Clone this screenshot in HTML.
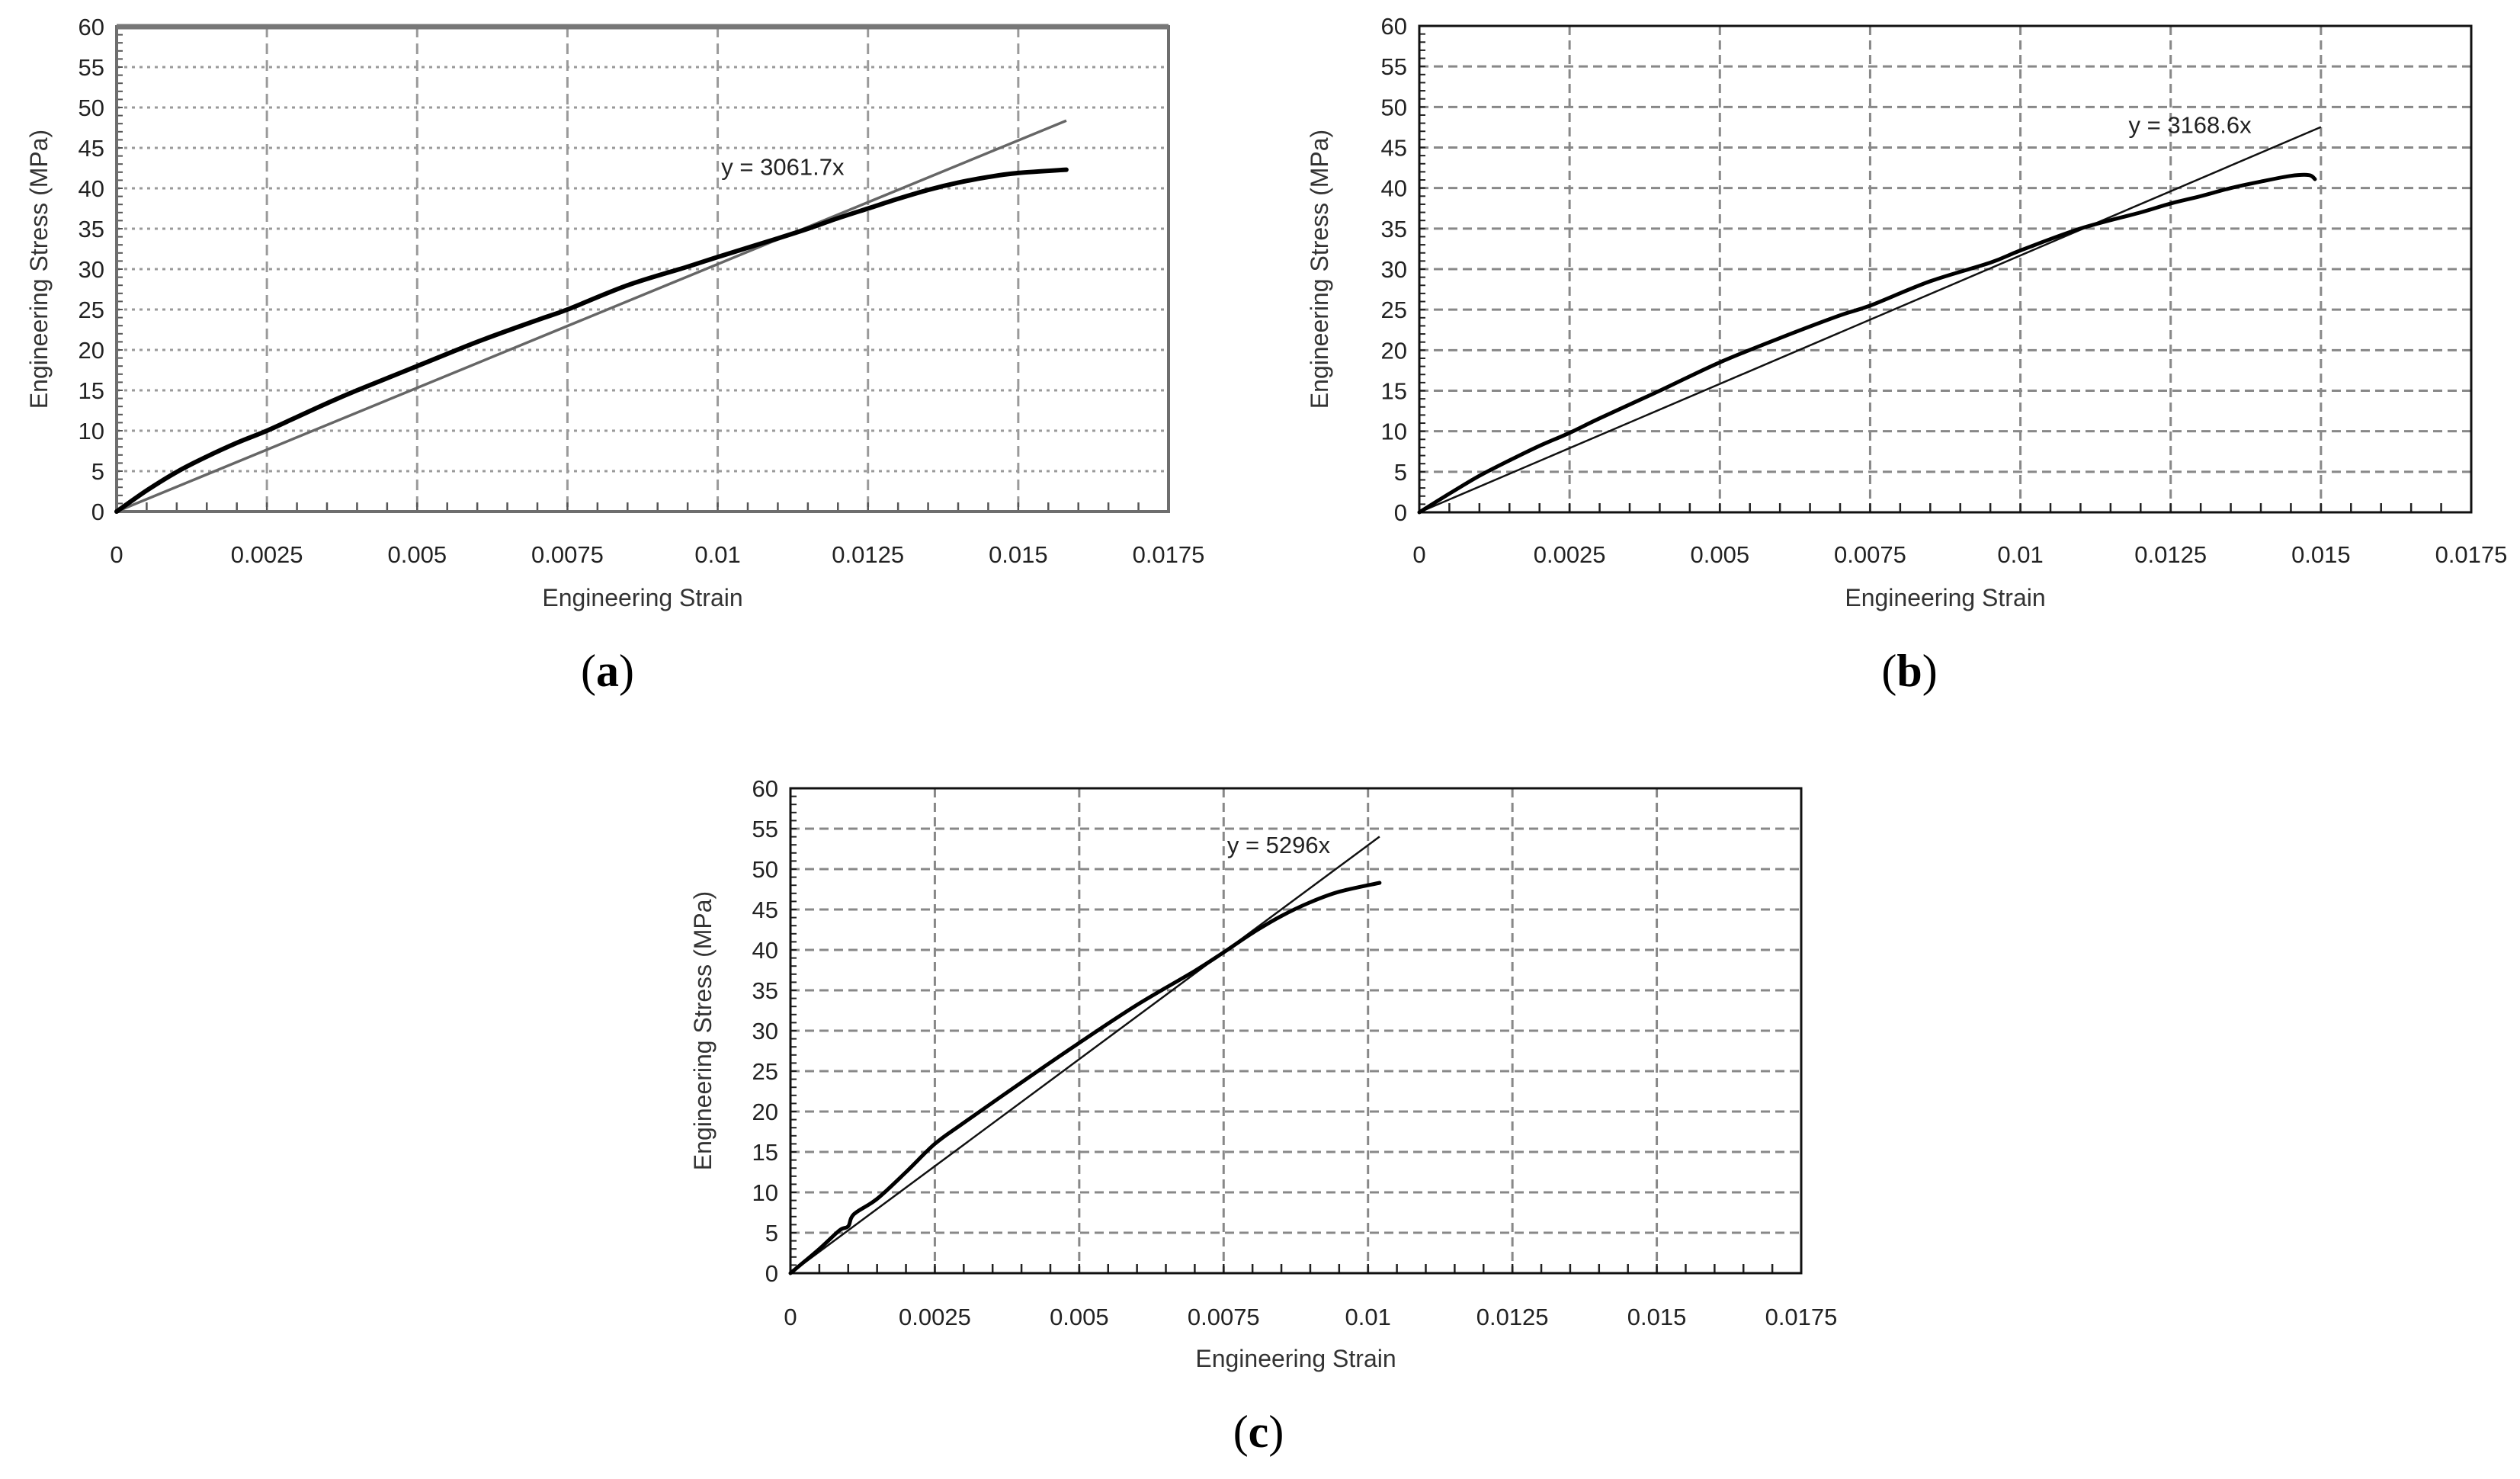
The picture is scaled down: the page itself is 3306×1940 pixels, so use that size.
<!DOCTYPE html>
<html><head><meta charset="utf-8">
<style>
html,body{margin:0;padding:0;background:#fff;}
svg{display:block;}
text{font-family:"Liberation Sans",sans-serif;}
</style></head>
<body>
<svg id="fig" width="3306" height="1940" viewBox="0 0 3306 1940" xmlns="http://www.w3.org/2000/svg"></svg>
<script>
const xTicks = [0, 0.0025, 0.005, 0.0075, 0.01, 0.0125, 0.015, 0.0175];
const xTickLabels = ["0","0.0025","0.005","0.0075","0.01","0.0125","0.015","0.0175"];
const yTicks = [0,5,10,15,20,25,30,35,40,45,50,55,60];

const strainA = [0,0.0005,0.001,0.0015,0.002,0.0025,0.003,0.0035,0.004,0.005,0.006,0.007,0.0075,0.0085,0.0095,0.01,0.011,0.0115,0.012,0.0125,0.013,0.0135,0.014,0.0145,0.015,0.0158];
const stressA = [0,2.6,4.9,6.8,8.5,10,11.7,13.4,15,18,21,23.7,25,28,30.3,31.5,33.8,35,36.3,37.5,38.7,39.8,40.7,41.4,41.9,42.3];
const strainB = [0,0.0005,0.001,0.0015,0.002,0.0025,0.003,0.004,0.005,0.006,0.007,0.0075,0.0085,0.0095,0.01,0.011,0.012,0.0125,0.013,0.0135,0.014,0.0145,0.0148,0.0149];
const stressB = [0,2.3,4.5,6.4,8.2,9.8,11.6,15,18.5,21.5,24.3,25.5,28.5,30.8,32.3,35,37,38.1,39,40,40.8,41.5,41.6,41.1];
const strainC = [0,0.0005,0.00085,0.001,0.0011,0.0015,0.002,0.0025,0.003,0.004,0.005,0.006,0.007,0.0075,0.008,0.0085,0.009,0.0095,0.0102];
const stressC = [0,3,5.3,5.8,7.3,9.2,12.5,16,18.6,23.6,28.5,33.2,37.4,39.7,42.1,44.2,45.9,47.2,48.3];
const slopes = [3061.7, 3168.6, 5296];
const fitEnds = [0.0158, 0.015, 0.0102];
const fitLabels = ["y = 3061.7x","y = 3168.6x","y = 5296x"];
const fitLabelPos = [[0.01006,42.7],[0.0118,47.8],[0.00756,53]];

const NS="http://www.w3.org/2000/svg";
const svg=document.getElementById('fig');
function mk(tag,attrs,parent){const e=document.createElementNS(NS,tag);for(const k in attrs)e.setAttribute(k,attrs[k]);(parent||svg).appendChild(e);return e;}
function smooth(pts){
 let d='M'+pts[0][0].toFixed(1)+','+pts[0][1].toFixed(1);
 for(let i=0;i<pts.length-1;i++){
  const p0=pts[Math.max(0,i-1)],p1=pts[i],p2=pts[i+1],p3=pts[Math.min(pts.length-1,i+2)];
  const c1=[p1[0]+(p2[0]-p0[0])/6,p1[1]+(p2[1]-p0[1])/6];
  const c2=[p2[0]-(p3[0]-p1[0])/6,p2[1]-(p3[1]-p1[1])/6];
  d+=` C${c1[0].toFixed(1)},${c1[1].toFixed(1)} ${c2[0].toFixed(1)},${c2[1].toFixed(1)} ${p2[0].toFixed(1)},${p2[1].toFixed(1)}`;
 }
 return d;
}

const panels=[
 {id:'a',L:153,R:1533,T:35,B:671,xs:strainA,ys:stressA,gray:true,yt:51,tickY:738,titleY:795,capX:797,capY:900},
 {id:'b',L:1862,R:3242,T:34,B:672,xs:strainB,ys:stressB,gray:false,yt:1731,tickY:738,titleY:795,capX:2505,capY:900},
 {id:'c',L:1037,R:2363,T:1034,B:1670,xs:strainC,ys:stressC,gray:false,yt:922,tickY:1738,titleY:1793,capX:1651,capY:1898}
];

panels.forEach((p,i)=>{
 const g=mk('g',{});
 
 
 const sx=v=>p.L+(v/0.0175)*(p.R-p.L);
 const sy=v=>p.B-(v/60)*(p.B-p.T);
 const gridCol=p.gray?'#9a9a9a':'#888';
 const dash=p.gray?'4,6':'12,7';
 yTicks.forEach(t=>{ if(t===0||t===60)return;
  const l=mk('line',{x1:p.L,x2:p.R,y1:sy(t),y2:sy(t),stroke:gridCol,'stroke-width':3,'stroke-dasharray':dash},g);
  
  
 });
 xTicks.forEach(t=>{ if(t===0||t===0.0175)return;
  const l=mk('line',{x1:sx(t),x2:sx(t),y1:p.T,y2:p.B,stroke:gridCol,'stroke-width':3,'stroke-dasharray':p.gray?'14,8':'12,7'},g);
  
  
 });
 for(let k=1;k<35;k++){const x=sx(k*0.0005);mk('line',{x1:x,x2:x,y1:p.B,y2:p.B-12,stroke:p.gray?'#555':'#222','stroke-width':2.5},g);}
 for(let k=1;k<60;k++){const y=sy(k);mk('line',{x1:p.L,x2:p.L+8,y1:y,y2:y,stroke:p.gray?'#555':'#222','stroke-width':2},g);}
 const fr=mk('rect',{x:p.L,y:p.T,width:p.R-p.L,height:p.B-p.T,fill:'none',stroke:p.gray?'#6e6e6e':'#111','stroke-width':p.gray?4:3},g);
 
 
 if(p.gray){mk('line',{x1:p.L,x2:p.R,y1:p.T,y2:p.T,stroke:'#777','stroke-width':7},g);}
 yTicks.forEach(t=>{
  const tx=mk('text',{x:p.L-16,y:sy(t)+11,'text-anchor':'end','font-size':31,fill:'#222'},g);
  tx.textContent=t;
  
  
 });
 xTicks.forEach((t,j)=>{
  const tx=mk('text',{x:sx(t),y:p.tickY,'text-anchor':'middle','font-size':31,fill:'#222'},g);
  tx.textContent=xTickLabels[j];
  
  
 });
 const xt=mk('text',{x:(p.L+p.R)/2,y:p.titleY,'text-anchor':'middle','font-size':32,fill:'#333'},g);
 xt.textContent='Engineering Strain';
 
 
 const ytt=mk('text',{x:p.yt,y:(p.T+p.B)/2,'text-anchor':'middle','font-size':32,fill:'#333',transform:`rotate(-90 ${p.yt} ${(p.T+p.B)/2})`,'dominant-baseline':'central'},g);
 ytt.textContent='Engineering Stress (MPa)';
 
 
 const fl=mk('line',{x1:sx(0),y1:sy(0),x2:sx(fitEnds[i]),y2:sy(slopes[i]*fitEnds[i]),stroke:p.gray?'#666':'#111','stroke-width':p.gray?3.5:2.5},g);
 
 
 const pts=p.xs.map((x,j)=>[sx(x),sy(p.ys[j])]);
 const cv=mk('path',{d:smooth(pts),fill:'none',stroke:'#000','stroke-width':p.gray?6:5,'stroke-linejoin':'round','stroke-linecap':'round'},g);
 
 
 const lb=mk('text',{x:sx(fitLabelPos[i][0]),y:sy(fitLabelPos[i][1])+11,'font-size':31,fill:'#222'},g);
 lb.textContent=fitLabels[i];
 
 
 const cap=mk('text',{x:p.capX,y:p.capY,'text-anchor':'middle','font-size':60,fill:'#000',style:'font-family:"Liberation Serif",serif'},g);
 cap.innerHTML='(<tspan font-weight="bold">'+p.id+'</tspan>)';
 
 
});
</script>
</body></html>
